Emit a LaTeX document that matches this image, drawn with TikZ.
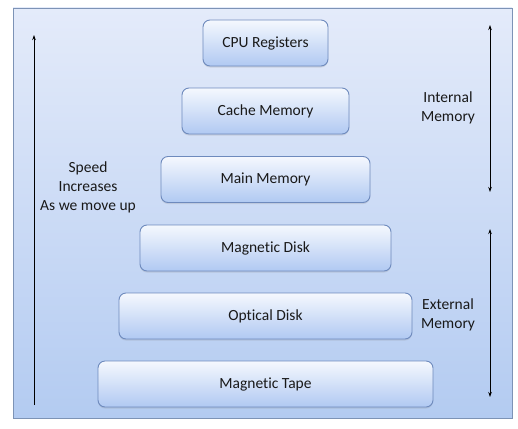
\documentclass[tikz,border=0pt]{standalone}
\usepackage{fontspec}
\setmainfont{Carlito}[Ligatures=NoCommon]
\usetikzlibrary{arrows.meta,shadows}
\definecolor{bgtop}{HTML}{E4EBFA}
\definecolor{bgbot}{HTML}{B3CBF1}
\definecolor{frameline}{HTML}{7D93B6}
\definecolor{boxtop}{HTML}{F5F8FE}
\definecolor{boxbot}{HTML}{B0C9F2}
\definecolor{boxline}{HTML}{6E8ABD}
\tikzset{
	level/.style={draw=boxline, line width=0.9pt, rounded corners=7pt, top color=boxtop, bottom color=boxbot,
		minimum height=46pt, inner sep=0pt, font=\fontsize{15.5}{19}\selectfont, text=black!90,
		drop shadow={opacity=0.2, shadow xshift=0pt, shadow yshift=-1.5pt}},
	note/.style={align=center, font=\fontsize{15.5}{19}\selectfont, text=black!90},
	span/.style={arrows={-Stealth[length=5pt,width=3.5pt]}, line width=0.8pt}
}
\begin{document}
\begin{tikzpicture}[x=1pt,y=-1pt]
	\useasboundingbox (0,0) rectangle (518,428);
	\draw [frameline, line width=0.9pt, top color=bgtop, bottom color=bgbot] (13,8) rectangle (512,418);
	\node [level, minimum width=125pt] (cpu) at (265.5,43) {CPU Registers};
	\node [level, minimum width=167pt] (cache) at (265.5,111) {Cache Memory};
	\node [level, minimum width=209pt] (main) at (265.5,179.5) {Main Memory};
	\node [level, minimum width=251pt] (disk) at (265.5,248) {Magnetic Disk};
	\node [level, minimum width=293pt] (optical) at (265.5,316) {Optical Disk};
	\node [level, minimum width=335pt] (tape) at (265.5,384) {Magnetic Tape};
	\node [note] (speed) at (88,187) {Speed\\Increases\\As we move up};
	\node [note] (internal) at (448,108) {Internal\\Memory};
	\node [note] (external) at (448,315) {External\\Memory};
	\coordinate (speedlo) at (34,405);\coordinate (speedhi) at (34,35);
	\coordinate (intlo) at (490,192);\coordinate (inthi) at (490,25);
	\coordinate (extlo) at (490,397);\coordinate (exthi) at (490,229);
	\draw [span] (speedlo) -- (speedhi);
	\draw [span, arrows={Stealth[length=5pt,width=3.5pt]-Stealth[length=5pt,width=3.5pt]}] (intlo) -- (inthi);
	\draw [span, arrows={Stealth[length=5pt,width=3.5pt]-Stealth[length=5pt,width=3.5pt]}] (extlo) -- (exthi);
\end{tikzpicture}
\end{document}
